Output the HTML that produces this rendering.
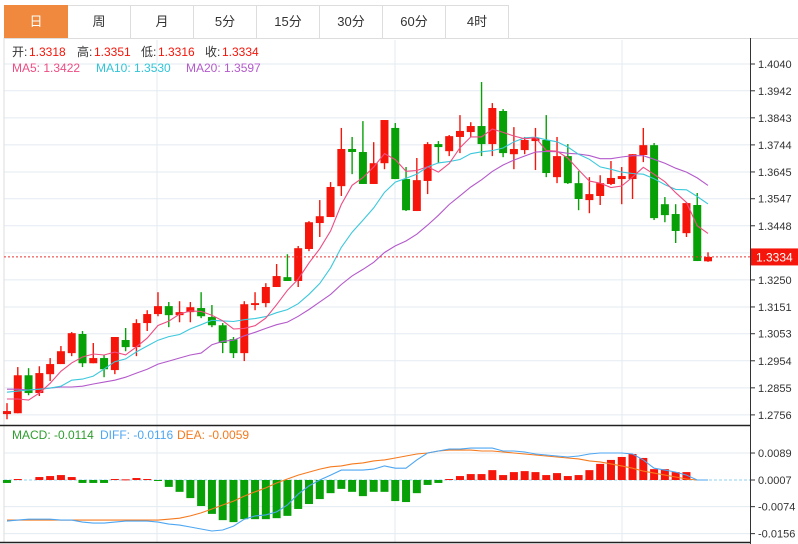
<!DOCTYPE html>
<html><head><meta charset="utf-8">
<style>
html,body{margin:0;padding:0;background:#fff;}
body{width:798px;height:544px;overflow:hidden;position:relative;font-family:"Liberation Sans","Noto Sans CJK SC",sans-serif;}
.tabs{position:absolute;left:4px;top:5px;height:33px;display:flex;}
.tab{width:62px;height:32px;border:1px solid #ddd;border-left:none;font-size:13px;color:#333;text-align:center;line-height:32px;box-sizing:content-box;}
.tab.first{border-left:1px solid #ddd;background:#F0883E;color:#fff;border-color:#F0883E;}
svg{position:absolute;left:0;top:0;}
</style></head>
<body>
<div class="tabs">
<div class="tab first">日</div>
<div class="tab">周</div>
<div class="tab">月</div>
<div class="tab">5分</div>
<div class="tab">15分</div>
<div class="tab">30分</div>
<div class="tab">60分</div>
<div class="tab">4时</div>
</div>
<svg id="chart" width="798" height="544"></svg>
<script>
const opens=[1.2759,1.2762,1.2901,1.2836,1.2905,1.2942,1.2982,1.3052,1.2945,1.2964,1.2920,1.3030,1.3004,1.3092,1.3125,1.3154,1.3121,1.3132,1.3147,1.3114,1.3084,1.3033,1.2982,1.3158,1.3165,1.3224,1.3260,1.3246,1.3363,1.3458,1.3480,1.3593,1.3729,1.3718,1.3601,1.3677,1.3806,1.3619,1.3502,1.3612,1.3747,1.3721,1.3773,1.3791,1.3813,1.3747,1.3868,1.3710,1.3725,1.3758,1.3762,1.3626,1.3703,1.3604,1.3542,1.3557,1.3601,1.3619,1.3619,1.3707,1.3743,1.3527,1.3491,1.3421,1.3524,1.3318];
const closes=[1.2770,1.2901,1.2836,1.2909,1.2942,1.2989,1.3055,1.2945,1.2964,1.2923,1.3041,1.3004,1.3092,1.3125,1.3154,1.3121,1.3132,1.3150,1.3117,1.3084,1.3019,1.2982,1.3161,1.3165,1.3224,1.3264,1.3246,1.3366,1.3461,1.3483,1.3590,1.3729,1.3718,1.3601,1.3677,1.3835,1.3619,1.3505,1.3615,1.3747,1.3736,1.3776,1.3795,1.3813,1.3747,1.3879,1.3714,1.3729,1.3762,1.3769,1.3641,1.3703,1.3604,1.3546,1.3564,1.3604,1.3623,1.3630,1.3710,1.3743,1.3476,1.3487,1.3429,1.3531,1.3319,1.3334];
const highs=[1.2799,1.2931,1.2927,1.2934,1.2964,1.3008,1.3059,1.3063,1.3019,1.2975,1.3041,1.3074,1.3106,1.3139,1.3205,1.3169,1.3172,1.3169,1.3205,1.3158,1.3092,1.3041,1.3172,1.3205,1.3238,1.3308,1.3344,1.3374,1.3465,1.3542,1.3608,1.3806,1.3773,1.3831,1.3754,1.3835,1.3824,1.3663,1.3696,1.3754,1.3758,1.3780,1.3853,1.3827,1.3974,1.3897,1.3875,1.3809,1.3773,1.3806,1.3853,1.3773,1.3747,1.3648,1.3626,1.3633,1.3685,1.3663,1.3710,1.3806,1.3751,1.3553,1.3527,1.3535,1.3568,1.3351];
const lows=[1.2740,1.2762,1.2828,1.2825,1.2880,1.2942,1.2971,1.2931,1.2945,1.2894,1.2905,1.2989,1.2971,1.3063,1.3117,1.3077,1.3095,1.3095,1.3110,1.3077,1.2982,1.2964,1.2953,1.3139,1.3150,1.3224,1.3246,1.3224,1.3355,1.3407,1.3480,1.3557,1.3637,1.3601,1.3601,1.3655,1.3619,1.3502,1.3502,1.3564,1.3677,1.3703,1.3714,1.3773,1.3703,1.3703,1.3699,1.3655,1.3710,1.3652,1.3626,1.3604,1.3601,1.3505,1.3494,1.3524,1.3597,1.3527,1.3546,1.3681,1.3469,1.3461,1.3385,1.3407,1.3319,1.3316];
const ma5Head=[1.2814,1.2814,1.2810,1.2836];
const ma10Head=[1.2839,1.2843,1.2847,1.2850,1.2854,1.2861,1.2883,1.2887,1.2898];
const ma20Head=[1.2850,1.2850,1.2847,1.2850,1.2854,1.2858,1.2858,1.2861,1.2869,1.2876,1.2883,1.2894,1.2909,1.2923,1.2942,1.2953,1.2964,1.2975,1.2982];
const priceTicks=[1.4040,1.3942,1.3843,1.3744,1.3645,1.3547,1.3448,1.3349,1.3250,1.3151,1.3053,1.2954,1.2855,1.2756];
const macdHist=[-0.0009,0.0003,0,0.0009,0.0012,0.0015,0.0009,-0.0009,-0.0009,-0.0009,0.0003,0.0002,0.0006,0.0003,-0.0003,-0.0021,-0.0036,-0.0055,-0.0079,-0.0103,-0.0122,-0.0128,-0.0119,-0.0119,-0.0119,-0.0116,-0.0109,-0.0088,-0.0073,-0.0058,-0.0040,-0.0027,-0.0036,-0.0049,-0.0036,-0.0036,-0.0064,-0.0067,-0.0040,-0.0015,-0.0009,0.0003,0.0012,0.0018,0.0018,0.0030,0.0015,0.0024,0.0027,0.0024,0.0015,0.0021,0.0012,0.0015,0.0030,0.0049,0.0061,0.0070,0.0079,0.0067,0.0033,0.0033,0.0024,0.0024,0,0];
const diffVals=[-0.0125,-0.0122,-0.0119,-0.0119,-0.0119,-0.0122,-0.0122,-0.0128,-0.0131,-0.0131,-0.0128,-0.0125,-0.0125,-0.0125,-0.0128,-0.0134,-0.0137,-0.0143,-0.0149,-0.0155,-0.0152,-0.0140,-0.0119,-0.0109,-0.0106,-0.0097,-0.0076,-0.0043,-0.0018,0,0.0015,0.0030,0.0030,0.0030,0.0033,0.0043,0.0036,0.0036,0.0061,0.0082,0.0088,0.0094,0.0094,0.0097,0.0097,0.0097,0.0088,0.0088,0.0085,0.0079,0.0076,0.0073,0.0070,0.0073,0.0079,0.0082,0.0082,0.0082,0.0079,0.0061,0.0036,0.0030,0.0024,0.0015,0,0];
const deaVals=[-0.0122,-0.0122,-0.0122,-0.0122,-0.0122,-0.0122,-0.0122,-0.0122,-0.0122,-0.0122,-0.0122,-0.0122,-0.0122,-0.0122,-0.0122,-0.0119,-0.0116,-0.0109,-0.0100,-0.0088,-0.0076,-0.0064,-0.0049,-0.0036,-0.0024,-0.0009,0.0003,0.0015,0.0024,0.0033,0.0040,0.0043,0.0049,0.0052,0.0058,0.0061,0.0067,0.0073,0.0079,0.0082,0.0088,0.0091,0.0091,0.0091,0.0088,0.0088,0.0085,0.0082,0.0079,0.0076,0.0073,0.0070,0.0067,0.0064,0.0058,0.0055,0.0049,0.0043,0.0036,0.0027,0.0021,0.0015,0.0009,0.0003,0,0];
const macdTickPos=[0.0082,0,-0.0081,-0.0163];
const macdTickLabels=['0.0089','0.0007','-0.0074','-0.0156'];

const NS='http://www.w3.org/2000/svg';
const svg=document.getElementById('chart');
function el(tag,attrs,parent){const e=document.createElementNS(NS,tag);for(const k in attrs)e.setAttribute(k,attrs[k]);(parent||svg).appendChild(e);return e;}
const xAt=i=>7+i*10.785;
const yP=p=>64+(1.4040-p)*2732.8;
const yM=v=>480-v*3290;
const RED='#F5150A',GREEN='#07A007';

// grid
const grid=el('g',{});


priceTicks.forEach(t=>{el('line',{x1:4,x2:750,y1:yP(t),y2:yP(t),stroke:'#e3ebf2','stroke-width':1},grid);});
macdTickPos.forEach((t,k)=>{ if(k!==1) el('line',{x1:4,x2:750,y1:yM(t),y2:yM(t),stroke:'#e3ebf2','stroke-width':1},grid);});
[157,395,622].forEach(x=>{el('line',{x1:x,x2:x,y1:40,y2:542,stroke:'#e3ebf2','stroke-width':1},grid);});
el('line',{x1:4,x2:4,y1:38,y2:542,stroke:'#ddd','stroke-width':1},grid);
el('line',{x1:4,x2:798,y1:38.5,y2:38.5,stroke:'#ddd','stroke-width':1},grid);

// axes
const axis=el('g',{});


el('line',{x1:750.5,x2:750.5,y1:38,y2:544,stroke:'#333','stroke-width':1},axis);
priceTicks.forEach(t=>{const y=yP(t);el('line',{x1:750,x2:755,y1:y,y2:y,stroke:'#333'},axis);
 const tx=el('text',{x:758,y:y+4,'font-size':11,fill:'#333','font-family':'Liberation Sans, sans-serif'},axis);tx.textContent=t.toFixed(4);});
el('line',{x1:0,x2:750,y1:425.5,y2:425.5,stroke:'#222','stroke-width':1.5},axis);
el('line',{x1:0,x2:750,y1:542.5,y2:542.5,stroke:'#222','stroke-width':1.5},axis);
const maxis=el('g',{});


macdTickPos.forEach((t,k)=>{const y=yM(t);el('line',{x1:750,x2:755,y1:y,y2:y,stroke:'#333'},maxis);
 const tx=el('text',{x:758,y:y+4,'font-size':11,fill:'#333','font-family':'Liberation Sans, sans-serif'},maxis);tx.textContent=macdTickLabels[k];});

// candles
const cg=el('g',{});


for(let i=0;i<opens.length;i++){
 const up=closes[i]>=opens[i];const col=up?RED:GREEN;const x=xAt(i);
 const g=el('g',{},cg);
 
 
 el('line',{x1:x,x2:x,y1:yP(highs[i]),y2:yP(lows[i]),stroke:col,'stroke-width':1.4},g);
 const top=yP(Math.max(opens[i],closes[i])),bot=yP(Math.min(opens[i],closes[i]));
 el('rect',{x:x-4,y:top,width:8,height:Math.max(1.5,bot-top),fill:col},g);
}
// MA lines
function ma(n,head,i){ if(i<n-1) return head[i]; let s=0; for(let k=i-n+1;k<=i;k++) s+=closes[k]; return s/n; }
function maLine(n,head,color,name){let d='';for(let i=0;i<closes.length;i++){d+=(i?'L':'M')+xAt(i).toFixed(1)+' '+yP(ma(n,head,i)).toFixed(1);}
 const p=el('path',{d:d,fill:'none',stroke:color,'stroke-width':1.1});
 
 }
maLine(20,ma20Head,'#B45ACB','ma20-line');
maLine(10,ma10Head,'#3CC8DC','ma10-line');
maLine(5,ma5Head,'#EE4C82','ma5-line');

// last price line
const lastY=yP(closes[closes.length-1]);
const pl=el('line',{x1:4,x2:750,y1:lastY,y2:lastY,stroke:'#E33','stroke-width':1,'stroke-dasharray':'2,2'});


const pb=el('rect',{x:751,y:lastY-8.5,width:47,height:17,fill:'#F5150A'});


const pt=el('text',{x:756,y:lastY+4.5,'font-size':12,fill:'#fff','font-family':'Liberation Sans, sans-serif'});
pt.textContent=closes[closes.length-1].toFixed(4);



// MACD
const zl=el('line',{x1:4,x2:750,y1:yM(0),y2:yM(0),stroke:'#8fd0ef','stroke-width':1,'stroke-dasharray':'3,2'});


const hg=el('g',{});


for(let i=0;i<macdHist.length;i++){const v=macdHist[i];if(v===0)continue;const y0=yM(0),y1=yM(v);
 const r=el('rect',{x:xAt(i)-4,y:Math.min(y0,y1),width:8,height:Math.max(1,Math.abs(y1-y0)),fill:v>0?RED:GREEN},hg);
 
 }
function mLine(arr,color,name){let d='';arr.forEach((v,i)=>{d+=(i?'L':'M')+xAt(i).toFixed(1)+' '+yM(v).toFixed(1);});
 const p=el('path',{d:d,fill:'none',stroke:color,'stroke-width':1.1});
 
 }
mLine(deaVals,'#F57A1E','dea-line');
mLine(diffVals,'#4DA6F2','diff-line');

// legends
function txt(x,y,s,color,name){const t=el('text',{x:x,y:y,'font-size':12,fill:color,'font-family':'Liberation Sans, Noto Sans CJK SC, sans-serif'});t.textContent=s;
 
 return t;}
const ohlc=[['开:','1.3318',12],['高:','1.3351',77],['低:','1.3316',141],['收:','1.3334',205]];
ohlc.forEach(o=>{txt(o[2],56,o[0],'#333','ohlc-label');txt(o[2]+17,56,o[1],'#F5150A','ohlc-value');});
txt(12,72,'MA5: 1.3422','#EE4C82','ma5-legend');
txt(96,72,'MA10: 1.3530','#30C4D8','ma10-legend');
txt(186,72,'MA20: 1.3597','#B45ACB','ma20-legend');
txt(12,439,'MACD: -0.0114','#2E9E2E','macd-legend');
txt(100,439,'DIFF: -0.0116','#4DA6F2','diff-legend');
txt(177,439,'DEA: -0.0059','#F57A1E','dea-legend');
</script>
</body></html>
